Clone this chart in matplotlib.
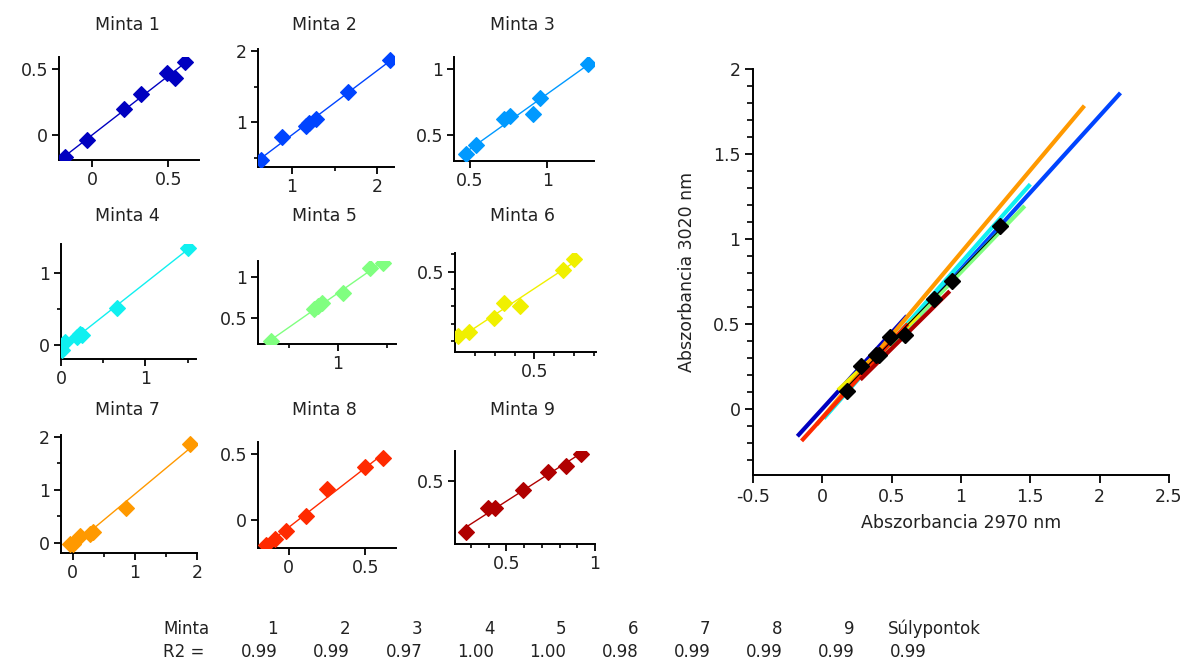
import numpy as np
import matplotlib
matplotlib.use("Agg")
import matplotlib.pyplot as plt
from matplotlib.ticker import FixedLocator, FuncFormatter

plt.rcParams['font.family'] = ['DejaVu Sans']
plt.rcParams['axes.unicode_minus'] = False

# ---------------- data ----------------
minta_labels = ["Minta 1", "Minta 2", "Minta 3", "Minta 4", "Minta 5",
                "Minta 6", "Minta 7", "Minta 8", "Minta 9"]

m1_x = [-0.18, -0.035, 0.21, 0.32, 0.49, 0.54, 0.61]
m1_y = [-0.17, -0.04, 0.20, 0.31, 0.47, 0.43, 0.55]
m2_x = [0.64, 0.88, 1.16, 1.20, 1.28, 1.66, 2.15]
m2_y = [0.47, 0.79, 0.95, 0.99, 1.04, 1.42, 1.87]
m3_x = [0.48, 0.54, 0.72, 0.76, 0.91, 0.955, 1.26]
m3_y = [0.35, 0.42, 0.62, 0.64, 0.66, 0.78, 1.04]
m4_x = [0.01, 0.05, 0.19, 0.22, 0.25, 0.66, 1.50]
m4_y = [-0.07, 0.04, 0.10, 0.15, 0.13, 0.51, 1.34]
m5_x = [0.32, 0.76, 0.80, 0.84, 1.05, 1.33, 1.46]
m5_y = [0.22, 0.61, 0.65, 0.68, 0.81, 1.11, 1.18]
m6_x = [0.113, 0.172, 0.295, 0.349, 0.428, 0.646, 0.70]
m6_y = [0.127, 0.15, 0.232, 0.32, 0.30, 0.51, 0.574]
m7_x = [-0.04, 0.0, 0.11, 0.28, 0.33, 0.86, 1.89]
m7_y = [-0.02, -0.03, 0.13, 0.16, 0.21, 0.65, 1.86]
m8_x = [-0.15, -0.087, -0.015, 0.115, 0.25, 0.50, 0.616]
m8_y = [-0.19, -0.145, -0.08, 0.035, 0.235, 0.40, 0.47]
m9_x = [0.274, 0.397, 0.434, 0.591, 0.736, 0.836, 0.919]
m9_y = [0.137, 0.303, 0.303, 0.434, 0.564, 0.604, 0.687]

table_cols = ["1", "2", "3", "4", "5", "6", "7", "8", "9", "Súlypontok"]
r2_values = ["0.99", "0.99", "0.97", "1.00", "1.00", "0.98", "0.99", "0.99", "0.99", "0.99"]

xs = [m1_x, m2_x, m3_x, m4_x, m5_x, m6_x, m7_x, m8_x, m9_x]
ys = [m1_y, m2_y, m3_y, m4_y, m5_y, m6_y, m7_y, m8_y, m9_y]

# ---------------- styles / layout ----------------
colors = ["#0000C0", "#0044FF", "#0099FF", "#10F0F0", "#80FF80",
          "#F0F000", "#FF9900", "#FF2A00", "#B00000"]

W, H = 1192, 666
fig = plt.figure(figsize=(W / 100, H / 100), dpi=100)

def add_ax(L, R, T, B):
    return fig.add_axes([L / W, 1 - B / H, (R - L) / W, (B - T) / H])

rects = [(59, 199, 57, 160), (258, 394, 49, 167), (454, 594, 57, 161),
         (61, 196, 244, 359), (258, 396, 261, 344), (455, 596, 253, 352),
         (61, 197, 435, 553), (258, 396, 442, 548), (455, 595, 451, 544)]
xlims = [(-0.217, 0.70), (0.6, 2.2), (0.40, 1.30),
         (0.0, 1.60), (0.19, 1.59), (0.1, 0.81),
         (-0.19, 2.0), (-0.2, 0.70), (0.21, 1.0)]
ylims = [(-0.19, 0.59), (0.37, 2.03), (0.30, 1.09),
         (-0.20, 1.40), (0.18, 1.20), (0.036, 0.607),
         (-0.19, 2.03), (-0.21, 0.59), (0.05, 0.71)]
xmaj = [[0, 0.5], [1, 2], [0.5, 1], [0, 1], [1], [0.5], [0, 1, 2], [0, 0.5], [0.5, 1]]
xmin = [[], [1.5], [], [0.5, 1.5], [0.5, 1.5], [0.2, 0.3, 0.4, 0.6, 0.7, 0.8],
        [0.5, 1.5], [], [0.3, 0.4, 0.6, 0.7, 0.8, 0.9]]
ymaj = [[0, 0.5], [1, 2], [0.5, 1], [0, 1], [0.5, 1], [0.5], [0, 1, 2], [0, 0.5], [0.5]]
ymin = [[], [0.5, 1.5], [], [0.5], [], [0.1, 0.2, 0.3, 0.4, 0.6], [0.5, 1.5], [], []]

fmt = FuncFormatter(lambda v, p: "{:g}".format(round(v, 3)))
txtc = "#222222"

def style_axis(ax, fs):
    for s in ("top", "right"):
        ax.spines[s].set_visible(False)
    for s in ("left", "bottom"):
        ax.spines[s].set_linewidth(1.4)
        ax.spines[s].set_color("black")
    ax.tick_params(which="major", direction="out", length=5, width=1.3,
                   labelsize=fs, colors="black", labelcolor=txtc, pad=3)
    ax.tick_params(which="minor", direction="out", length=3, width=1.2, colors="black")
    ax.xaxis.set_major_formatter(fmt)
    ax.yaxis.set_major_formatter(fmt)

title_x = [127.5, 324, 522]
title_y = [25.5, 215.5, 410]

for i in range(9):
    ax = add_ax(*rects[i])
    x = np.array(xs[i]); y = np.array(ys[i])
    k, b = np.polyfit(x, y, 1)
    xl = np.array([x.min(), x.max()])
    ax.plot(xl, k * xl + b, color=colors[i], lw=1.0, zorder=2)
    ax.plot(x, y, linestyle="none", marker="D", ms=8, color=colors[i],
            mec=colors[i], mew=0.8, zorder=3)
    ax.set_xlim(*xlims[i]); ax.set_ylim(*ylims[i])
    ax.xaxis.set_major_locator(FixedLocator(xmaj[i]))
    ax.yaxis.set_major_locator(FixedLocator(ymaj[i]))
    ax.xaxis.set_minor_locator(FixedLocator(xmin[i]))
    ax.yaxis.set_minor_locator(FixedLocator(ymin[i]))
    style_axis(ax, 12.5)
    fig.text(title_x[i % 3] / W, 1 - title_y[i // 3] / H, minta_labels[i],
             ha="center", va="center", fontsize=12.5, color=txtc)

# ---------------- big summary plot ----------------
axb = add_ax(753, 1169, 69, 475)
cx, cy = [], []
for i in range(9):
    x = np.array(xs[i]); y = np.array(ys[i])
    k, b = np.polyfit(x, y, 1)
    xl = np.array([x.min(), x.max()])
    axb.plot(xl, k * xl + b, color=colors[i], lw=3.0, solid_capstyle="butt", zorder=2)
    cx.append(x.mean()); cy.append(y.mean())
cx = np.array(cx); cy = np.array(cy)
kc, bc = np.polyfit(cx, cy, 1)
xcl = np.array([cx.min(), cx.max()])
axb.plot(xcl, kc * xcl + bc, color="black", lw=0.8, zorder=3)
axb.plot(cx, cy, linestyle="none", marker="D", ms=8, color="black", zorder=4)
axb.set_xlim(-0.5, 2.5)
axb.set_ylim(-0.39, 2.0)
axb.xaxis.set_major_locator(FixedLocator([-0.5, 0, 0.5, 1, 1.5, 2, 2.5]))
axb.yaxis.set_major_locator(FixedLocator([0, 0.5, 1, 1.5, 2]))
axb.yaxis.set_minor_locator(FixedLocator([v / 10 for v in range(-3, 20) if v % 5 != 0]))
style_axis(axb, 12.5)
axb.tick_params(which="major", length=6)
axb.tick_params(which="minor", length=4)
axb.set_xlabel("Abszorbancia 2970 nm", fontsize=12.5, color=txtc, labelpad=6)
axb.set_ylabel("Abszorbancia 3020 nm", fontsize=12.5, color=txtc, labelpad=12)

# ---------------- R2 table ----------------
row1_y = 1 - 629 / H
row2_y = 1 - 652 / H
fig.text(163 / W, row1_y, "Minta", ha="left", va="center", fontsize=12, color=txtc)
fig.text(163 / W, row2_y, "R2 =", ha="left", va="center", fontsize=12, color=txtc)
for j, (c, r) in enumerate(zip(table_cols, r2_values)):
    xr = 278 + 72.1 * j
    if j < 9:
        fig.text(xr / W, row1_y, c, ha="right", va="center", fontsize=12, color=txtc)
    else:
        fig.text(888 / W, row1_y, c, ha="left", va="center", fontsize=12, color=txtc)
    fig.text(xr / W, row2_y, r, ha="right", va="center", fontsize=12, color=txtc)

fig.savefig("out.png", dpi=100)
